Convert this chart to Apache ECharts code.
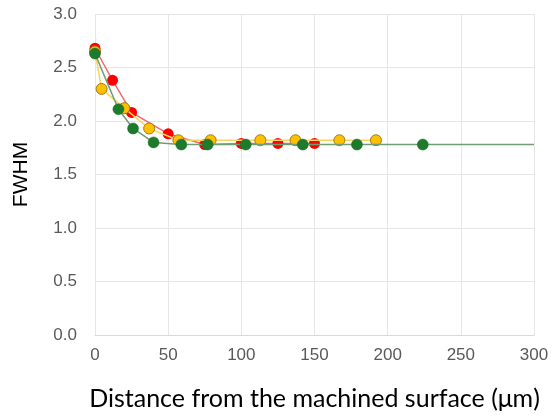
<!DOCTYPE html>
<html><head><meta charset="utf-8">
<script src="https://cdn.jsdelivr.net/npm/echarts@6/dist/echarts.min.js"></script>
<style>html,body{margin:0;padding:0;background:#fff}#c{width:553px;height:417px}</style>
</head><body><div id="c"></div>
<script>
const redX = [0, 12, 25, 50, 75, 100, 125, 150];
const redY = [2.68, 2.38, 2.08, 1.88, 1.78, 1.79, 1.79, 1.79];
const yellowX = [0, 4.5, 20, 37, 57, 79, 113, 137, 167, 192];
const yellowY = [2.65, 2.30, 2.12, 1.93, 1.82, 1.82, 1.82, 1.82, 1.82, 1.82];
const greenX = [0, 16, 26, 40, 59, 77, 103, 142, 179, 224];
const greenY = [2.63, 2.11, 1.93, 1.80, 1.78, 1.78, 1.78, 1.78, 1.78, 1.78];
const greenTailX = 300;
const greenTailY = 1.78;
const xTicks = [0, 50, 100, 150, 200, 250, 300];
const yTicks = [0.0, 0.5, 1.0, 1.5, 2.0, 2.5, 3.0];

function pairs(xs, ys){ return xs.map((x,i)=>[x, ys[i]]); }
const greenData = pairs(greenX, greenY);
greenData.push({value:[greenTailX, greenTailY], symbol:'none'});

const chart = echarts.init(document.getElementById('c'), null, {renderer:'canvas'});
chart.setOption({
  animation:false,
  grid:{left:95, right:19, top:14, bottom:82, outerBoundsMode:'none', containLabel:false},
  xAxis:{type:'value', min:xTicks[0], max:xTicks[xTicks.length-1], interval:50,
    axisLine:{show:true, lineStyle:{color:'#d9d9d9'}}, axisTick:{show:false},
    splitLine:{show:true, lineStyle:{color:'#e6e6e6'}},
    axisLabel:{color:'#595959', fontSize:17, fontFamily:'Liberation Sans', margin:12},
    name:'Distance from the machined surface (\u03bcm)', nameLocation:'middle', nameGap:51,
    nameTextStyle:{color:'#000', fontSize:25, fontFamily:'Lato'}},
  yAxis:{type:'value', min:yTicks[0], max:yTicks[yTicks.length-1], interval:0.5,
    axisLine:{show:false}, axisTick:{show:false},
    splitLine:{show:true, lineStyle:{color:'#e6e6e6'}},
    axisLabel:{color:'#595959', fontSize:17, fontFamily:'Liberation Sans', margin:18, formatter:v=>v.toFixed(1)},
    name:'FWHM', nameLocation:'middle', nameGap:63, nameRotate:90,
    nameTextStyle:{color:'#000', fontSize:21, fontFamily:'Liberation Sans'}},
  series:[
    {type:'line', data:pairs(redX, redY), symbol:'circle', symbolSize:11,
      lineStyle:{color:'#f06a70', width:1.5}, itemStyle:{color:'#ff0000', borderColor:'#ff0000', borderWidth:0}, z:2},
    {type:'line', data:pairs(yellowX, yellowY), symbol:'circle', symbolSize:11,
      lineStyle:{color:'#f8d45a', width:1.5}, itemStyle:{color:'#ffc000', borderColor:'#9a7b22', borderWidth:1}, z:3},
    {type:'line', data:greenData, symbol:'circle', symbolSize:11,
      lineStyle:{color:'#6f9d74', width:1.5}, itemStyle:{color:'#1e7b2c', borderColor:'#1a6a26', borderWidth:0.5}, z:4}
  ]
});
</script></body></html>
